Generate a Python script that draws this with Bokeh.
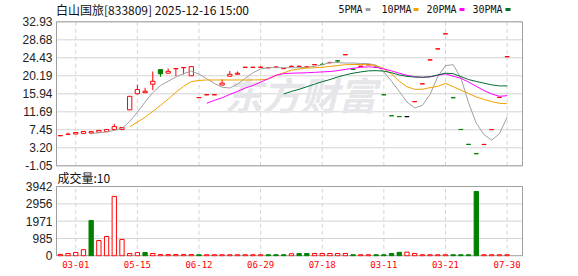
from bokeh.plotting import figure
from bokeh.models import (Range1d, FixedTicker, LinearAxis, ColumnDataSource, Grid)
from bokeh.core.properties import value
from bokeh.embed import file_html
from bokeh.resources import INLINE

# ---------------- data ----------------
title_text = "白山国旅[833809] 2025-12-16 15:00"
legend_names = ["5PMA", "10PMA", "20PMA", "30PMA"]
volume_title = "成交量:10"
watermark_text = "东方财富"

price_ticks = [-1.05, 3.20, 7.45, 11.69, 15.94, 20.19, 24.43, 28.68, 32.93]
volume_ticks = [0, 985, 1971, 2956, 3942]
date_tick_index = [2, 10, 18, 26, 34, 42, 50, 58]
date_tick_labels = ["03-01", "05-15", "06-12", "06-29", "07-18", "03-11", "03-21", "07-30"]

open_ = [6.05, 6.38, 6.45, 6.60, 6.70, 6.85, 7.00, 7.50, 7.50, 12.15,
         15.95, 16.20, 18.20, 21.65, 20.80, 21.85, 22.10, 20.20, 15.03, 15.70,
         15.70, 18.00, 20.10, 20.55, 22.18, 22.18, 22.18, 22.08, 22.20, 21.88,
         22.40, 22.40, 22.25, 22.80, 22.88, 23.30, 23.72, 25.15, 21.77, 22.43,
         22.78, 22.22, 15.72, 10.77, 10.57, 10.55, 14.08, 18.28, 23.93, 26.53,
         30.08, 15.02, 7.52, 4.02, 1.82, 3.98, 7.48, 15.08, 24.68]
close = [6.07, 6.40, 6.80, 7.05, 7.00, 7.30, 7.50, 8.20, 8.00, 15.35,
         16.95, 16.55, 18.90, 20.65, 21.25, 21.90, 22.15, 22.35, 15.05, 15.72,
         15.72, 18.45, 20.55, 20.80, 22.20, 22.20, 22.20, 22.10, 22.25, 21.90,
         22.42, 22.42, 22.30, 22.82, 22.85, 23.32, 23.70, 25.17, 21.75, 22.45,
         22.80, 22.20, 15.70, 10.75, 10.55, 10.55, 14.10, 18.30, 23.95, 26.55,
         30.10, 15.00, 7.50, 4.00, 1.80, 4.00, 7.50, 15.10, 24.70]
high = [6.07, 6.75, 6.85, 7.10, 7.05, 7.35, 7.55, 8.85, 8.05, 15.35,
        18.10, 17.35, 21.20, 21.65, 21.90, 21.90, 22.15, 22.50, 15.05, 15.72,
        15.72, 19.35, 21.35, 21.20, 22.20, 22.20, 22.45, 22.10, 22.50, 21.90,
        22.60, 22.62, 22.50, 22.82, 23.30, 23.55, 23.72, 25.17, 21.77, 22.45,
        22.80, 22.22, 15.72, 10.77, 10.57, 10.55, 14.10, 18.30, 23.95, 26.55,
        30.10, 15.02, 7.52, 4.02, 1.82, 4.00, 7.50, 15.10, 24.70]
low = [6.05, 6.38, 6.45, 6.55, 6.40, 6.85, 7.00, 7.45, 7.45, 12.15,
       15.80, 16.20, 16.80, 19.95, 20.80, 20.10, 20.50, 20.20, 15.03, 15.70,
       15.70, 18.00, 20.10, 20.55, 22.18, 22.18, 22.18, 22.08, 22.15, 21.88,
       22.20, 22.40, 22.15, 22.80, 22.85, 23.05, 23.30, 25.15, 21.75, 22.43,
       22.78, 22.20, 15.70, 10.75, 10.55, 10.55, 14.08, 18.28, 23.93, 26.53,
       30.08, 15.00, 7.50, 4.00, 1.80, 3.98, 7.48, 15.08, 24.68]

volume = [80, 130, 190, 350, 2010, 870, 1100, 3380, 930, 130,
          180, 190, 130, 70, 70, 70, 70, 70, 60, 60,
          60, 60, 60, 60, 60, 60, 60, 60, 60, 60,
          120, 130, 130, 130, 130, 130, 130, 130, 60, 60,
          60, 60, 60, 130, 200, 210, 130, 60, 60, 60,
          60, 60, 60, 60, 3660, 60, 60, 60, 60]
volume_up = [1, 1, 1, 1, 0, 1, 1, 1, 1, 1,
             1, 0, 1, 1, 1, 1, 1, 1, 0, 1,
             1, 1, 1, 1, 1, 1, 1, 0, 0, 0,
             1, 0, 0, 1, 1, 1, 1, 1, 0, 1,
             1, 0, 0, 0, 0, 1, 1, 1, 1, 1,
             1, 0, 0, 0, 0, 1, 1, 1, 1]

ma5 = [None, None, None, None, 6.55, 6.75, 6.95, 7.3, 7.75, 9.4,
       11.6, 14.0, 16.2, 17.9, 18.9, 19.9, 20.7, 21.3, 20.6, 19.5,
       18.4, 17.5, 17.3, 18.2, 19.6, 20.9, 21.8, 22.1, 22.1, 22.1,
       22.1, 22.1, 22.2, 22.4, 22.8, 23.3, 23.3, 23.2, 23.2, 23.1,
       23.05, 22.7, 21.1, 18.9, 16.5, 14.0, 12.6, 13.2, 15.8, 20.0,
       22.6, 22.8, 19.7, 13.8, 9.0, 6.3, 5.0, 6.5, 10.4]
ma10 = [None] * 9 + [8.15,
        9.25, 10.4, 11.8, 13.2, 14.7, 16.3, 17.7, 18.8, 19.1, 19.2,
        19.2, 19.2, 19.2, 19.2, 19.2, 19.2, 19.25, 19.4, 20.3, 20.9,
        21.5, 21.8, 22.0, 22.1, 22.2, 22.4, 22.6, 22.8, 22.85, 22.85,
        22.8, 22.6, 21.9, 20.6, 18.9, 17.6, 17.0, 17.0, 17.4, 17.7,
        18.4, 17.6, 16.8, 16.0, 15.2, 14.6, 14.1, 13.7, 13.6]
ma20 = [None] * 19 + [13.7,
        14.4, 15.0, 15.8, 16.5, 17.3, 17.9, 18.7, 19.5, 20.3, 20.7,
        20.8, 20.85, 20.9, 21.0, 21.1, 21.2, 21.4, 21.7, 21.95, 22.2,
        22.3, 22.2, 21.8, 21.35, 20.8, 20.3, 19.95, 19.8, 19.95, 20.3,
        20.65, 20.1, 19.6, 18.7, 17.7, 16.7, 15.9, 15.35, 15.5]
ma30 = [None] * 29 + [15.9,
        16.5, 17.0, 17.6, 18.2, 18.8, 19.3, 19.9, 20.4, 20.8, 21.1,
        21.35, 21.4, 21.3, 20.9, 20.4, 20.05, 19.9, 19.85, 19.95, 20.4,
        20.8, 20.7, 20.0, 19.3, 18.85, 18.45, 18.05, 17.8, 17.8]

# ---------------- styles / layout ----------------
RED = "#ff0000"
GREEN = "#008000"
BLACK = "#000000"
MA_COLORS = ["#a0a0a0", "#f0a000", "#ff00ff", "#007030"]
GRID_COLOR = "#d4d4d4"
OUTLINE = "#a0a0a0"
LABEL_COLOR = "#222222"

W, H = 578, 276
FRAME_L, FRAME_R = 55, 523          # plotting frame (px) – one frame for both panels
FRAME_T, FRAME_B = 0, 256
BOX_L_PX, BOX_R_PX = 56.0, 522.0    # panel boxes
P_TOP_PX, P_BOT_PX = 21.3, 165.3    # price panel: 32.93 .. -1.05
V_TOP_PX, V_BOT_PX = 186.0, 255.3   # volume panel: 3942 .. 0
SLOT0 = -0.5                          # left edge of first candle slot
SLOT1 = 60.0                          # right edge of the last slot

P_HI, P_LO = price_ticks[-1], price_ticks[0]
V_HI, V_LO = volume_ticks[-1], volume_ticks[0]
UNIT_PX = (BOX_R_PX - BOX_L_PX) / (SLOT1 - SLOT0)


def px2x(px):
    return SLOT0 + (px - BOX_L_PX) / UNIT_PX


def py2price(py):
    return P_HI - (py - P_TOP_PX) * (P_HI - P_LO) / (P_BOT_PX - P_TOP_PX)


def py2vol(py):
    return V_HI - (py - V_TOP_PX) * (V_HI - V_LO) / (V_BOT_PX - V_TOP_PX)


def vol2py(vv):
    return V_BOT_PX - (vv - V_LO) * (V_BOT_PX - V_TOP_PX) / (V_HI - V_LO)


xs = list(range(len(close)))

p = figure(width=W, height=H,
           x_range=Range1d(px2x(FRAME_L), px2x(FRAME_R)),
           y_range=Range1d(py2price(FRAME_B), py2price(FRAME_T)),
           output_backend="svg", toolbar_location=None,
           x_axis_location=None, y_axis_location=None,
           min_border_left=FRAME_L, min_border_right=W - FRAME_R,
           min_border_top=FRAME_T, min_border_bottom=H - FRAME_B)
p.extra_y_ranges = {"vol": Range1d(py2vol(FRAME_B), py2vol(FRAME_T))}
p.outline_line_color = None
p.background_fill_color = "white"
p.border_fill_color = "white"
p.center = [c for c in p.center if not isinstance(c, Grid)]

# ---- left axis: price ticks and (mapped) volume ticks share one axis ----
vol_tick_pos = [py2price(vol2py(t)) for t in volume_ticks]
all_ticks = price_ticks + vol_tick_pos
overrides = {t: "%.2f" % t for t in price_ticks}
overrides.update({pos: "%d" % t for pos, t in zip(vol_tick_pos, volume_ticks)})
yax = LinearAxis(ticker=FixedTicker(ticks=all_ticks), major_label_overrides=overrides)
yax.axis_line_color = None
yax.major_tick_line_color = None
yax.minor_tick_line_color = None
yax.major_tick_out = 0
yax.major_tick_in = 0
yax.major_label_text_font = "Liberation Sans"
yax.major_label_text_font_size = "12px"
yax.major_label_text_color = LABEL_COLOR
yax.major_label_standoff = 3
p.add_layout(yax, "left")

# ---- bottom axis: dates ----
xax = LinearAxis(ticker=FixedTicker(ticks=date_tick_index),
                 major_label_overrides={t: s for t, s in zip(date_tick_index, date_tick_labels)})
xax.axis_line_color = None
xax.major_tick_line_color = None
xax.minor_tick_line_color = None
xax.major_tick_out = 0
xax.major_tick_in = 0
xax.major_label_text_font = "DejaVu Sans Mono"
xax.major_label_text_font_size = "9px"
xax.major_label_text_color = RED
xax.major_label_standoff = 4
p.add_layout(xax, "below")

# ---- grid lines (drawn through the scales, limited to each panel box) ----
p.segment(x0=[SLOT0] * len(price_ticks), x1=[SLOT1] * len(price_ticks),
          y0=price_ticks, y1=price_ticks, line_color=GRID_COLOR, line_width=1)
p.segment(x0=[SLOT0] * len(volume_ticks), x1=[SLOT1] * len(volume_ticks),
          y0=volume_ticks, y1=volume_ticks, line_color=GRID_COLOR, line_width=1,
          y_range_name="vol")
p.segment(x0=date_tick_index, x1=date_tick_index,
          y0=[P_LO] * len(date_tick_index), y1=[P_HI] * len(date_tick_index),
          line_color=GRID_COLOR, line_width=1, line_dash="4 3")
p.segment(x0=date_tick_index, x1=date_tick_index,
          y0=[V_LO] * len(date_tick_index), y1=[V_HI] * len(date_tick_index),
          line_color=GRID_COLOR, line_width=1, line_dash="4 3", y_range_name="vol")

# ---- watermark ----
p.text(x=[px2x(300)], y=[py2price(93)], text=[watermark_text],
       text_font=value("Noto Sans CJK SC"), text_font_size="38px",
       text_font_style="bold italic", text_color="#e6e6ea",
       text_align="center", text_baseline="middle")

# ---- panel boxes ----
p.quad(left=[SLOT0], right=[SLOT1], bottom=[P_LO], top=[P_HI],
       fill_color=None, line_color=OUTLINE, line_width=1)
p.quad(left=[SLOT0], right=[SLOT1], bottom=[V_LO], top=[V_HI],
       fill_color=None, line_color=OUTLINE, line_width=1, y_range_name="vol")

# ---- candles ----
line_c, fill_c = [], []
for o, c in zip(open_, close):
    if c > o:
        line_c.append(RED); fill_c.append("white")
    elif c < o:
        line_c.append(GREEN); fill_c.append(GREEN)
    else:
        line_c.append(BLACK); fill_c.append(BLACK)

csrc = ColumnDataSource(dict(
    x=xs, high=high, low=low,
    top=[max(o, c) for o, c in zip(open_, close)],
    bottom=[min(o, c) for o, c in zip(open_, close)],
    line=line_c, fill=fill_c))
p.segment(x0="x", y0="low", x1="x", y1="high", line_color="line", line_width=1, source=csrc)
p.vbar(x="x", width=0.56, top="top", bottom="bottom", fill_color="fill",
       line_color="line", line_width=1, source=csrc)

# ---- moving averages ----
for series, col in zip([ma5, ma10, ma20, ma30], MA_COLORS):
    mxs = [i for i, vv in enumerate(series) if vv is not None]
    mys = [vv for vv in series if vv is not None]
    p.line(mxs, mys, line_color=col, line_width=1)

# ---- volume bars ----
vsrc = ColumnDataSource(dict(
    x=xs, top=volume,
    line=[RED if u else GREEN for u in volume_up],
    fill=["white" if u else GREEN for u in volume_up]))
p.vbar(x="x", width=0.56, top="top", bottom=V_LO, fill_color="fill",
       line_color="line", line_width=1, source=vsrc, y_range_name="vol")

# ---- texts: title, legend, volume caption ----
p.text(x=[px2x(55.5)], y=[py2price(8.7)], text=[title_text],
       text_font=value("Noto Sans CJK SC"), text_font_size="12px",
       text_color="#111111", text_align="left", text_baseline="middle")
legend_text_px = [338, 381, 426, 472]
legend_mark_px = [365, 413, 459, 505]
p.text(x=[px2x(t) for t in legend_text_px], y=[py2price(8.9)] * 4, text=legend_names,
       text_font=value("DejaVu Sans Mono"), text_font_size="10px",
       text_color="#111111", text_align="left", text_baseline="middle")
p.quad(left=[px2x(m) for m in legend_mark_px], right=[px2x(m + 5) for m in legend_mark_px],
       top=[py2price(7.6)] * 4, bottom=[py2price(10.4)] * 4,
       fill_color=MA_COLORS, line_color=None)
p.text(x=[px2x(57)], y=[py2price(176.7)], text=[volume_title],
       text_font=value("Noto Sans CJK SC"), text_font_size="12px",
       text_color="#111111", text_align="left", text_baseline="middle")

open("out.html", "w").write(file_html(p, INLINE))
